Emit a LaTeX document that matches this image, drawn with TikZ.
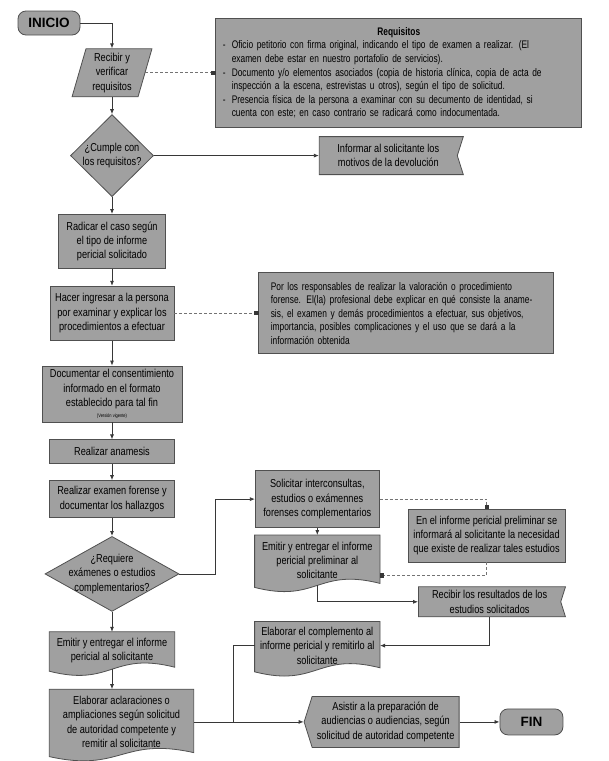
\documentclass[tikz,border=0pt]{standalone}
\usepackage{fontspec}
\setmainfont{Liberation Sans}[FakeStretch=0.8]
\newfontfamily\notafont{Liberation Sans}[FakeStretch=0.76]
\newfontfamily\termfont{Liberation Sans}
\usetikzlibrary{positioning,shapes.geometric,shapes.symbols,arrows.meta,calc}

\definecolor{cajagris}{RGB}{160,160,160}
\definecolor{bordegris}{RGB}{80,80,80}
\definecolor{lineagris}{RGB}{55,55,55}
\definecolor{puntosgris}{RGB}{115,115,115}

\pgfdeclarelayer{fondo}
\pgfsetlayers{fondo,main}

\newcommand{\jline}[1]{\makebox[\linewidth][s]{#1}}
\newcommand{\vineta}[1]{\makebox[9pt][l]{-}\makebox[\dimexpr\linewidth-9pt\relax][s]{#1}}
\newcommand{\sangria}[1]{\hspace*{9pt}#1}
\newcommand{\docwave}[1]{%
  \begin{pgfonlayer}{fondo}
    \draw[draw=bordegris,fill=cajagris,line width=0.8pt] (#1.north west) -- (#1.north east) -- ([yshift=2pt]#1.south east)
      .. controls ([yshift=18pt]#1.south) and ([yshift=-18pt]#1.south) .. ([yshift=-2pt]#1.south west) -- cycle;
  \end{pgfonlayer}}

\begin{document}
\begin{tikzpicture}[
  every node/.style={font=\fontsize{11.5}{14.3}\selectfont,text=black},
  proceso/.style={draw=bordegris,fill=cajagris,line width=0.8pt,align=center,inner sep=2pt},
  decision/.style={proceso,diamond,inner xsep=0pt,inner ysep=-12pt},
  terminal/.style={proceso,rounded corners=8pt,font=\termfont\bfseries\fontsize{13.5}{16}\selectfont},
  entrada/.style={proceso,trapezium,trapezium left angle=75,trapezium right angle=105,trapezium stretches=true},
  documento/.style={align=center,inner sep=2pt},
  salida/.style={proceso,signal,signal from=east,signal to=nowhere,signal pointer angle=145},
  llegada/.style={proceso,signal,signal to=west,signal from=nowhere,signal pointer angle=145},
  nota/.style={proceso,align=left,font=\notafont\fontsize{11}{13.6}\selectfont},
  flecha/.style={draw=lineagris,line width=0.8pt,-{Latex[length=5pt,width=4pt]}},
  linea/.style={draw=lineagris,line width=0.8pt},
  enlace/.style={draw=puntosgris,line width=0.8pt,dash pattern=on 3pt off 2pt,-{Square[length=4pt,width=4pt,color=lineagris,fill=lineagris]}}
]
\useasboundingbox (0,0) rectangle (609pt,-761pt);
\begin{pgfonlayer}{fondo}
  \fill[white] (0,0) rectangle (609pt,-761pt);
\end{pgfonlayer}

% Columna principal
\node[terminal,minimum width=62pt,minimum height=24pt] (inicio) at (49pt,-23pt) {INICIO};
\node[entrada,below=13pt of inicio,xshift=63pt,minimum width=80pt,minimum height=48pt] (recibir) {Recibir y\\verificar\\requisitos};
\node[decision,below=17pt of recibir,minimum width=83pt,minimum height=82pt] (cumple) {¿Cumple con\\los requisitos?};
\node[proceso,below=17pt of cumple,minimum width=107pt,minimum height=54pt] (radicar) {Radicar el caso según\\el tipo de informe\\pericial solicitado};
\node[proceso,below=17pt of radicar,minimum width=124pt,minimum height=54pt] (ingresar) {Hacer ingresar a la persona\\por examinar y explicar los\\procedimientos a efectuar};
\node[proceso,below=25pt of ingresar,minimum width=140pt,minimum height=56pt] (consent) {Documentar el consentimiento\\informado en el formato\\establecido para tal fin\\[-3pt]{\fontsize{5}{6}\selectfont(Versión vigente)}};
\node[proceso,below=17pt of consent,minimum width=125pt,minimum height=24pt] (anamnesis) {Realizar anamesis};
\node[proceso,below=16pt of anamnesis,minimum width=125pt,minimum height=37pt] (examen) {Realizar examen forense y\\documentar los hallazgos};
\node[decision,aspect=1.8,below=18pt of examen,minimum width=134pt,minimum height=75pt] (requiere) {¿Requiere\\exámenes o estudios\\complementarios?};
\node[documento,below=20pt of requiere,minimum width=125pt,minimum height=37pt] (emitir) {Emitir y entregar el informe\\pericial al solicitante};
\node[documento,below=20pt of emitir.south west,anchor=north west,minimum width=144pt,minimum height=65pt] (aclarar) {Elaborar aclaraciones o\\ampliaciones según solicitud\\de autoridad competente y\\remitir al solicitante};

% Notas y ramas de la derecha
\node[nota,right=70pt of recibir,minimum width=366pt,minimum height=109pt,text width=352pt] (requisitos) {%
  \makebox[\linewidth]{\bfseries Requisitos}\\
  \vineta{Oficio petitorio con firma original, indicando el tipo de examen a realizar. (El}\\
  \sangria{examen debe estar en nuestro portafolio de servicios).}\\
  \vineta{Documento y/o elementos asociados (copia de historia clínica, copia de acta de}\\
  \sangria{inspección a la escena, estrevistas u otros), según el tipo de solicitud.}\\
  \vineta{Presencia física de la persona a examinar con su decumento de identidad, si}\\
  \sangria{cuenta con este; en caso contrario se radicará como indocumentada.}};
\node[salida,right=165pt of cumple,minimum width=144pt,minimum height=38pt] (informar) {Informar al solicitante los\\motivos de la devolución};
\node[nota,right=84pt of ingresar,minimum width=295pt,minimum height=81pt,text width=271pt] (responsables) {%
  \jline{Por los responsables de realizar la valoración o procedimiento}\\
  \jline{forense. El(la) profesional debe explicar en qué consiste la aname-}\\
  \jline{sis, el examen y demás procedimientos a efectuar, sus objetivos,}\\
  \jline{importancia, posibles complicaciones y el uso que se dará a la}\\
  información obtenida};
\node[proceso,right=80pt of examen,minimum width=124pt,minimum height=57pt] (solicitar) {Solicitar interconsultas,\\estudios o exámennes\\forenses complementarios};
\node[documento,below=7pt of solicitar,minimum width=125pt,minimum height=50pt] (preliminar) {Emitir y entregar el informe\\pericial preliminar al\\solicitante};
\node[proceso,below right=9.5pt and 28pt of solicitar.east,minimum width=157pt,minimum height=53pt] (aviso) {En el informe pericial preliminar se\\informará al solicitante la necesidad\\que existe de realizar tales estudios};
\node[salida,below=24pt of aviso,xshift=3pt,minimum width=147pt,minimum height=30pt] (resultados) {Recibir los resultados de los\\estudios solicitados};
\node[documento,below=36pt of preliminar,minimum width=125pt,minimum height=48pt] (complemento) {Elaborar el complemento al\\informe pericial y remitirlo al\\solicitante};
\node[llegada,right=110pt of aclarar,minimum width=155pt,minimum height=51pt] (asistir) {Asistir a la preparación de\\audiencias o audiencias, según\\solicitud de autoridad competente};
\node[terminal,right=40pt of asistir,minimum width=63pt,minimum height=26pt] (fin) {FIN};

% Formas de documento
\docwave{emitir}
\docwave{aclarar}
\docwave{preliminar}
\docwave{complemento}

% Conectores
\draw[flecha] (inicio.east) -| (cumple.north |- recibir.north);
\draw[flecha] (cumple.north |- recibir.south) -- (cumple.north);
\draw[enlace] (recibir.right side) -- (recibir.right side -| requisitos.west);
\draw[flecha] (cumple.east) -- (informar.west);
\draw[flecha] (cumple.south) -- (radicar.north);
\draw[flecha] (radicar.south) -- (ingresar.north);
\draw[enlace] (ingresar.east) -- (ingresar.east -| responsables.west);
\draw[flecha] (ingresar.south) -- (consent.north);
\draw[flecha] (consent.south) -- (anamnesis.north);
\draw[flecha] (anamnesis.south) -- (examen.north);
\draw[flecha] (examen.south) -- (requiere.north);
\draw[flecha] (requiere.east) -- ++(36pt,0) |- (solicitar.west);
\draw[flecha] (solicitar.south) -- (preliminar.north);
\draw[enlace] (solicitar.east) -| (aviso.north);
\draw[enlace] (aviso.south) |- ([yshift=10pt]preliminar.south east);
\draw[flecha] (preliminar.south) |- (resultados.west);
\draw[flecha] (resultados.south) |- (complemento.east);
\draw[flecha] (requiere.south) -- (emitir.north);
\draw[flecha] (emitir.south) -- (emitir.south |- aclarar.north);
\draw[flecha] (aclarar.east) -- (aclarar.east -| asistir.west);
\coordinate (union) at ($(aclarar.east)+(40pt,0)$);
\draw[linea] (complemento.west) -| (union);
\draw[flecha] (asistir.east) -- (fin.west);
\end{tikzpicture}
\end{document}
